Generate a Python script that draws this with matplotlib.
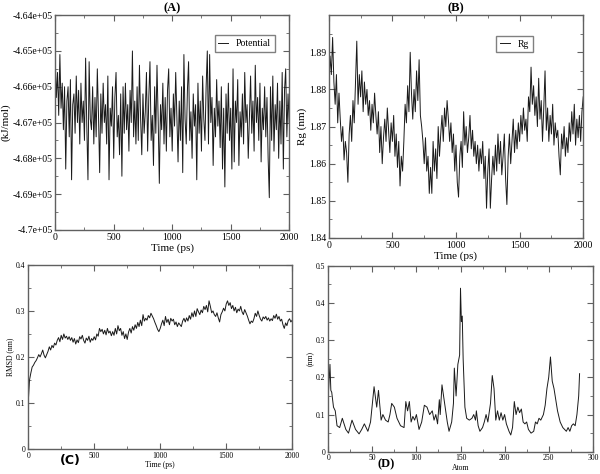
import numpy as np
import matplotlib
matplotlib.use("Agg")
import matplotlib.pyplot as plt
from matplotlib.ticker import MultipleLocator, FuncFormatter

plt.rcParams['font.family'] = ['Liberation Serif', 'DejaVu Serif']

# (A) potential energy, kJ/mol / 1000, every 10 ps
time_a = list(range(0, 2001, 10))
potential_k = [
    -465.2, -466.3, -465.6, -466.8, -465.1, -466.6, -465.9, -467.2, -466.0, -468.3,
    -466.4, -466.0, -467.4, -465.8, -468.6, -466.5, -466.2, -467.3, -465.7, -467.0,
    -466.1, -467.6, -465.9, -467.0, -466.4, -467.5, -465.2, -467.1, -468.6, -465.3,
    -466.9, -467.2, -466.0, -467.6, -466.3, -467.4, -465.5, -466.8, -468.4, -466.2,
    -467.3, -465.9, -467.0, -466.5, -467.6, -465.7, -468.6, -466.6, -467.1, -466.0,
    -468.0, -466.3, -465.6, -467.4, -466.8, -467.9, -466.2, -468.5, -466.0, -467.3,
    -465.9, -467.2, -466.5, -467.8, -466.1, -467.0, -465.0, -467.4, -466.4, -467.6,
    -466.0, -467.5, -465.4, -466.9, -467.9, -466.2, -467.3, -466.7, -465.6, -467.8,
    -466.3, -465.3, -467.5, -466.8, -468.2, -466.0, -467.3, -465.4, -466.9, -468.7,
    -466.5, -467.2, -465.9, -467.6, -466.3, -467.8, -466.1, -465.5, -467.4, -466.6,
    -467.8, -466.2, -467.1, -465.6, -466.9, -468.1, -466.4, -467.5, -466.0, -468.4,
    -465.1, -466.9, -467.6, -466.1, -465.3, -467.5, -466.7, -468.0, -466.2, -467.1,
    -466.5, -468.6, -465.9, -467.3, -466.4, -467.8, -465.7, -466.9, -467.5, -466.0,
    -465.0, -467.6, -465.1, -467.0, -466.3, -468.2, -466.6, -467.4, -465.8, -467.1,
    -466.4, -467.7, -466.0, -468.3, -466.6, -468.8, -466.2, -467.3, -465.9, -467.5,
    -466.6, -468.3, -465.5, -468.1, -466.4, -467.0, -465.8, -468.2, -466.7, -467.4,
    -466.2, -467.6, -465.6, -467.0, -466.5, -468.0, -466.9, -465.7, -467.3, -466.4,
    -467.8, -465.4, -467.0, -466.3, -467.5, -465.9, -468.1, -466.6, -467.2, -466.0,
    -467.4, -466.3, -468.0, -469.1, -466.0, -467.5, -465.7, -467.8, -466.5, -467.2,
    -465.9, -468.0, -466.4, -467.6, -465.6, -468.3, -466.1, -465.5, -467.4, -466.2, -467.0,
]

# (B) radius of gyration, nm, every 10 ps
time_b = list(range(0, 2001, 10))
rg = [
    1.880, 1.889, 1.884, 1.894, 1.882, 1.876, 1.884, 1.871, 1.879, 1.872,
    1.866, 1.870, 1.861, 1.866, 1.863, 1.855, 1.868, 1.873, 1.866, 1.877,
    1.871, 1.882, 1.893, 1.876, 1.884, 1.878, 1.885, 1.874, 1.882, 1.876,
    1.880, 1.873, 1.877, 1.869, 1.876, 1.871, 1.879, 1.873, 1.868, 1.874,
    1.863, 1.870, 1.860, 1.867, 1.872, 1.866, 1.875, 1.869, 1.863, 1.871,
    1.866, 1.873, 1.862, 1.868, 1.859, 1.866, 1.854, 1.862, 1.858, 1.866,
    1.876, 1.871, 1.881, 1.874, 1.890, 1.879, 1.872, 1.880, 1.874, 1.885,
    1.877, 1.888, 1.873, 1.870, 1.866, 1.860, 1.867, 1.858, 1.862, 1.852,
    1.859, 1.852, 1.866, 1.858, 1.864, 1.856, 1.870, 1.862, 1.868, 1.873,
    1.866, 1.875, 1.870, 1.877, 1.872, 1.866, 1.871, 1.863, 1.868, 1.858,
    1.865, 1.855, 1.851, 1.862, 1.866, 1.859, 1.874, 1.865, 1.870, 1.863,
    1.867, 1.873, 1.864, 1.869, 1.862, 1.866, 1.860, 1.865, 1.858, 1.864,
    1.860, 1.866, 1.856, 1.862, 1.848, 1.858, 1.864, 1.848, 1.856, 1.862,
    1.857, 1.865, 1.858, 1.868, 1.860, 1.866, 1.857, 1.862, 1.868, 1.856,
    1.849, 1.862, 1.868, 1.860, 1.866, 1.872, 1.863, 1.869, 1.864, 1.871,
    1.866, 1.873, 1.868, 1.875, 1.869, 1.872, 1.866, 1.878, 1.874, 1.886,
    1.876, 1.881, 1.873, 1.878, 1.870, 1.883, 1.872, 1.877, 1.866, 1.875,
    1.885, 1.869, 1.875, 1.866, 1.873, 1.868, 1.876, 1.865, 1.871, 1.867,
    1.869, 1.862, 1.857, 1.868, 1.864, 1.870, 1.862, 1.867, 1.863, 1.871,
    1.866, 1.874, 1.868, 1.876, 1.865, 1.872, 1.867, 1.873, 1.866, 1.874, 1.878,
]

# (C) RMSD, nm, every 10 ps
time_c = list(range(0, 2001, 10))
rmsd = [
    0.100, 0.150, 0.165, 0.178, 0.182, 0.188, 0.192, 0.198, 0.205, 0.200,
    0.207, 0.215, 0.204, 0.198, 0.205, 0.212, 0.222, 0.215, 0.225, 0.220,
    0.230, 0.226, 0.236, 0.242, 0.233, 0.247, 0.238, 0.250, 0.241, 0.245,
    0.238, 0.244, 0.236, 0.242, 0.232, 0.240, 0.228, 0.237, 0.231, 0.244,
    0.239, 0.247, 0.236, 0.230, 0.241, 0.236, 0.245, 0.232, 0.240, 0.236,
    0.244, 0.237, 0.250, 0.245, 0.262, 0.255, 0.260, 0.250, 0.258, 0.248,
    0.262, 0.252, 0.256, 0.246, 0.255, 0.247, 0.262, 0.250, 0.268, 0.257,
    0.262, 0.247, 0.255, 0.240, 0.250, 0.238, 0.254, 0.262, 0.252, 0.266,
    0.258, 0.270, 0.262, 0.275, 0.266, 0.280, 0.268, 0.292, 0.278, 0.284,
    0.280, 0.290, 0.285, 0.295, 0.289, 0.283, 0.275, 0.268, 0.260, 0.255,
    0.262, 0.272, 0.280, 0.268, 0.288, 0.275, 0.282, 0.270, 0.284, 0.278,
    0.282, 0.270, 0.276, 0.266, 0.274, 0.270, 0.266, 0.278, 0.284, 0.276,
    0.285, 0.278, 0.290, 0.282, 0.296, 0.287, 0.300, 0.288, 0.305, 0.298,
    0.292, 0.302, 0.296, 0.310, 0.303, 0.312, 0.298, 0.322, 0.310, 0.296,
    0.300, 0.292, 0.288, 0.296, 0.285, 0.276, 0.292, 0.298, 0.306, 0.300,
    0.315, 0.322, 0.312, 0.318, 0.305, 0.312, 0.300, 0.308, 0.296, 0.304,
    0.300, 0.310, 0.298, 0.292, 0.303, 0.296, 0.289, 0.280, 0.272, 0.278,
    0.275, 0.283, 0.295, 0.288, 0.300, 0.290, 0.282, 0.278, 0.287, 0.283,
    0.288, 0.280, 0.285, 0.278, 0.283, 0.279, 0.290, 0.284, 0.293, 0.282,
    0.288, 0.278, 0.282, 0.270, 0.262, 0.274, 0.268, 0.279, 0.283, 0.276, 0.280,
]

# (D) RMSF per atom, nm
atom = [0, 1, 2, 3, 4, 6, 8, 10, 13, 16, 20, 23, 27, 31, 35, 38, 41, 45, 48,
        52, 55, 57, 60, 62, 65, 68, 70, 72, 75, 78, 82, 86, 88, 90, 92, 94, 96,
        98, 100, 103, 106, 109, 112, 115, 118, 120, 122, 124, 126, 127, 129,
        132, 135, 137, 140, 142, 143, 145, 147, 149, 150, 151, 152, 153, 155,
        157, 160, 163, 165, 167, 168, 170, 172, 175, 177, 179, 181, 184, 186,
        188, 190, 192, 194, 196, 198, 200, 202, 205, 207, 209, 211, 213, 215,
        217, 219, 221, 223, 225, 227, 230, 233, 235, 237, 239, 241, 244, 246,
        248, 250, 252, 254, 256, 258, 260, 263, 266, 268, 270, 272, 274, 276,
        278, 280, 282, 284, 285]
rmsf = [0.150, 0.190, 0.235, 0.165, 0.160, 0.120, 0.110, 0.070, 0.065, 0.090,
        0.060, 0.050, 0.085, 0.060, 0.048, 0.060, 0.075, 0.055, 0.080,
        0.175, 0.120, 0.165, 0.085, 0.100, 0.085, 0.080, 0.100, 0.130, 0.120,
        0.090, 0.070, 0.065, 0.135, 0.110, 0.135, 0.080, 0.095, 0.085, 0.100,
        0.060, 0.080, 0.125, 0.120, 0.100, 0.110, 0.085, 0.100, 0.075, 0.140,
        0.100, 0.180, 0.130, 0.080, 0.055, 0.080, 0.130, 0.225, 0.150, 0.235,
        0.260, 0.440, 0.350, 0.365, 0.250, 0.120, 0.090, 0.085, 0.090, 0.100,
        0.085, 0.110, 0.070, 0.055, 0.065, 0.080, 0.100, 0.080, 0.130, 0.205,
        0.170, 0.085, 0.110, 0.085, 0.105, 0.085, 0.100, 0.075, 0.055, 0.045,
        0.065, 0.135, 0.100, 0.120, 0.105, 0.115, 0.080, 0.075, 0.080, 0.060,
        0.050, 0.055, 0.080, 0.075, 0.090, 0.085, 0.100, 0.125, 0.170, 0.200,
        0.255, 0.190, 0.170, 0.140, 0.110, 0.080, 0.065, 0.060, 0.055, 0.065,
        0.055, 0.070, 0.075, 0.070, 0.100, 0.150, 0.210]

LINE = '#1a1a1a'
FRAME = '#606060'


def grace_style(ax, xmaj, xmin, ymaj, ymin, fs=7):
    ax.xaxis.set_major_locator(MultipleLocator(xmaj))
    ax.xaxis.set_minor_locator(MultipleLocator(xmin))
    ax.yaxis.set_major_locator(MultipleLocator(ymaj))
    ax.yaxis.set_minor_locator(MultipleLocator(ymin))
    ax.tick_params(which='both', direction='in', top=True, right=True,
                   color=FRAME, labelsize=fs, pad=2)
    ax.tick_params(which='major', length=4, width=0.8)
    ax.tick_params(which='minor', length=2, width=0.6)
    for s in ax.spines.values():
        s.set_color(FRAME)
        s.set_linewidth(1.0)


fig = plt.figure(figsize=(6, 4.74), dpi=100)

# (A)
axA = fig.add_axes([0.092, 0.515, 0.390, 0.453])
axA.plot(time_a, np.array(potential_k) * 1000, color=LINE, lw=0.7, label='Potential')
axA.set_xlim(0, 2000)
axA.set_ylim(-470000, -464000)
grace_style(axA, 500, 250, 1000, 500)
axA.yaxis.set_major_formatter(FuncFormatter(lambda v, p: '%.3g' % v))
axA.set_xlabel('Time (ps)', fontsize=8, labelpad=1)
axA.set_ylabel('(kJ/mol)', fontsize=8, labelpad=1)
axA.set_title('(A)', fontsize=9, fontweight='bold', pad=3)
lg = axA.legend(loc='upper right', fontsize=7, handlelength=1.0, frameon=True,
                fancybox=False, borderpad=0.4, bbox_to_anchor=(0.96, 0.93))
lg.get_frame().set_edgecolor(FRAME)

# (B)
axB = fig.add_axes([0.548, 0.498, 0.424, 0.470])
axB.plot(time_b, rg, color=LINE, lw=0.7, label='Rg')
axB.set_xlim(0, 2000)
axB.set_ylim(1.84, 1.90)
grace_style(axB, 500, 250, 0.01, 0.005)
axB.set_yticks([1.84, 1.85, 1.86, 1.87, 1.88, 1.89])
axB.set_xlabel('Time (ps)', fontsize=8, labelpad=1)
axB.set_ylabel('Rg (nm)', fontsize=8, labelpad=1)
axB.set_title('(B)', fontsize=9, fontweight='bold', pad=3)
lg = axB.legend(loc='upper right', fontsize=7, handlelength=1.0, frameon=True,
                fancybox=False, borderpad=0.4, bbox_to_anchor=(0.82, 0.93))
lg.get_frame().set_edgecolor(FRAME)

# (C)
axC = fig.add_axes([0.047, 0.053, 0.440, 0.388])
axC.plot(time_c, rmsd, color=LINE, lw=0.7)
axC.set_xlim(0, 2000)
axC.set_ylim(0, 0.4)
grace_style(axC, 500, 250, 0.1, 0.05, fs=5.5)
axC.yaxis.set_major_formatter(FuncFormatter(lambda v, p: '%g' % round(v, 3)))
axC.set_ylabel('RMSD (nm)', fontsize=5.5, labelpad=1)
axC.set_xlabel('Time (ps)', fontsize=5.5, labelpad=1)
axC.text(0.16, -0.065, '(C)', transform=axC.transAxes, fontsize=9,
         fontweight='bold', ha='center', va='center', family='DejaVu Sans')

# (D)
axD = fig.add_axes([0.547, 0.047, 0.441, 0.392])
axD.plot(atom, rmsf, color=LINE, lw=0.7)
axD.set_xlim(0, 300)
axD.set_ylim(0, 0.5)
grace_style(axD, 50, 25, 0.1, 0.05, fs=5.5)
axD.yaxis.set_major_formatter(FuncFormatter(lambda v, p: '%g' % round(v, 3)))
axD.set_ylabel('(nm)', fontsize=5.5, labelpad=1)
axD.set_xlabel('Atom', fontsize=5.5, labelpad=1)
axD.text(0.22, -0.065, '(D)', transform=axD.transAxes, fontsize=9,
         fontweight='bold', ha='center', va='center')

fig.savefig('out.png', dpi=100)
